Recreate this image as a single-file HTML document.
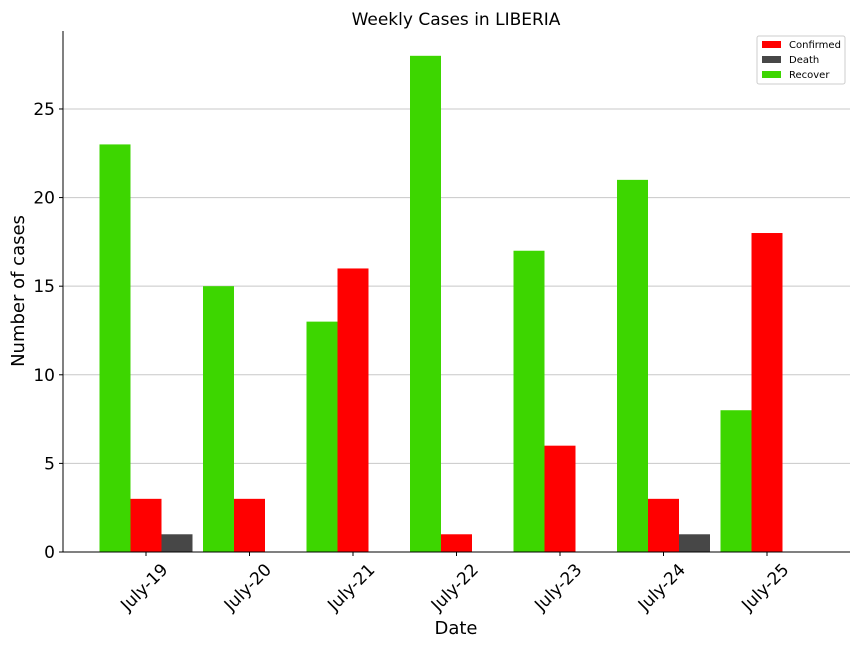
<!DOCTYPE html>
<html><head><meta charset="utf-8"><style>
body{margin:0;background:#fff;}
svg{display:block;font-family:"DejaVu Sans","Liberation Sans",sans-serif;}
</style></head><body>
<svg id="chart" width="864" height="648" xmlns="http://www.w3.org/2000/svg"></svg>
<script>
const categories=["July-19","July-20","July-21","July-22","July-23","July-24","July-25"];
const recover=[23,15,13,28,17,21,8];
const confirmed=[3,3,16,1,6,3,18];
const death=[1,0,0,0,0,1,0];
const yTicks=[0,5,10,15,20,25];
const NS="http://www.w3.org/2000/svg";
const svg=document.getElementById('chart');
const L=63,R=850,T=31,B=552,yMax=29.4;
const y=v=>B-(B-T)*v/yMax;
const x0=146,step=103.5,bw=31;
const xc=i=>x0+i*step;
function mk(tag,attrs,parent){const e=document.createElementNS(NS,tag);for(const k in attrs)e.setAttribute(k,attrs[k]);(parent||svg).appendChild(e);return e;}
yTicks.forEach(t=>{
 const g=mk('line',{x1:L,x2:R,y1:y(t),y2:y(t),stroke:'#c8c8c8','stroke-width':1});
 
 
 const tk=mk('line',{x1:L-4,x2:L,y1:y(t),y2:y(t),stroke:'#000'});
 
 
 const tx=mk('text',{x:L-8,y:y(t)+6,'text-anchor':'end','font-size':17});
 tx.textContent=t;
 
 
});
const series=[[recover,'#3dd600',-1,'recover'],[confirmed,'#ff0000',0,'confirmed'],[death,'#474747',1,'death']];
categories.forEach((c,i)=>{
 series.forEach(([arr,col,off,nm])=>{
  const v=arr[i];
  const r=mk('rect',{x:xc(i)+off*bw-bw/2,y:y(v),width:bw,height:B-y(v),fill:col});
  
  
 });
 const tk=mk('line',{x1:xc(i),x2:xc(i),y1:B,y2:B+4,stroke:'#000'});
 
 
 const tx=mk('text',{x:xc(i)-2,y:593,'text-anchor':'middle','font-size':17,transform:`rotate(-45 ${xc(i)-2} 587)`});
 tx.textContent=c;
 
 
});
const sl=mk('line',{x1:L,x2:L,y1:T,y2:B,stroke:'#000'});


const sb=mk('line',{x1:L,x2:R,y1:B,y2:B,stroke:'#000'});


const ti=mk('text',{x:456,y:25,'text-anchor':'middle','font-size':17});
ti.textContent='Weekly Cases in LIBERIA';


const xt=mk('text',{x:456,y:634,'text-anchor':'middle','font-size':18});
xt.textContent='Date';


const yt=mk('text',{x:24,y:291,'text-anchor':'middle','font-size':18,transform:'rotate(-90 24 291)'});
yt.textContent='Number of cases';


const lg=mk('g',{});


mk('rect',{x:757,y:36,width:88,height:48,fill:'#fff',stroke:'#ccc',rx:2},lg);
[['Confirmed','#ff0000'],['Death','#474747'],['Recover','#3dd600']].forEach(([n,c],k)=>{
 const e=mk('g',{},lg);
 
 
 mk('rect',{x:762,y:41+k*15,width:19,height:7,fill:c},e);
 const t=mk('text',{x:789,y:48+k*15,'font-size':10},e);
 t.textContent=n;
});
</script>
</body></html>
